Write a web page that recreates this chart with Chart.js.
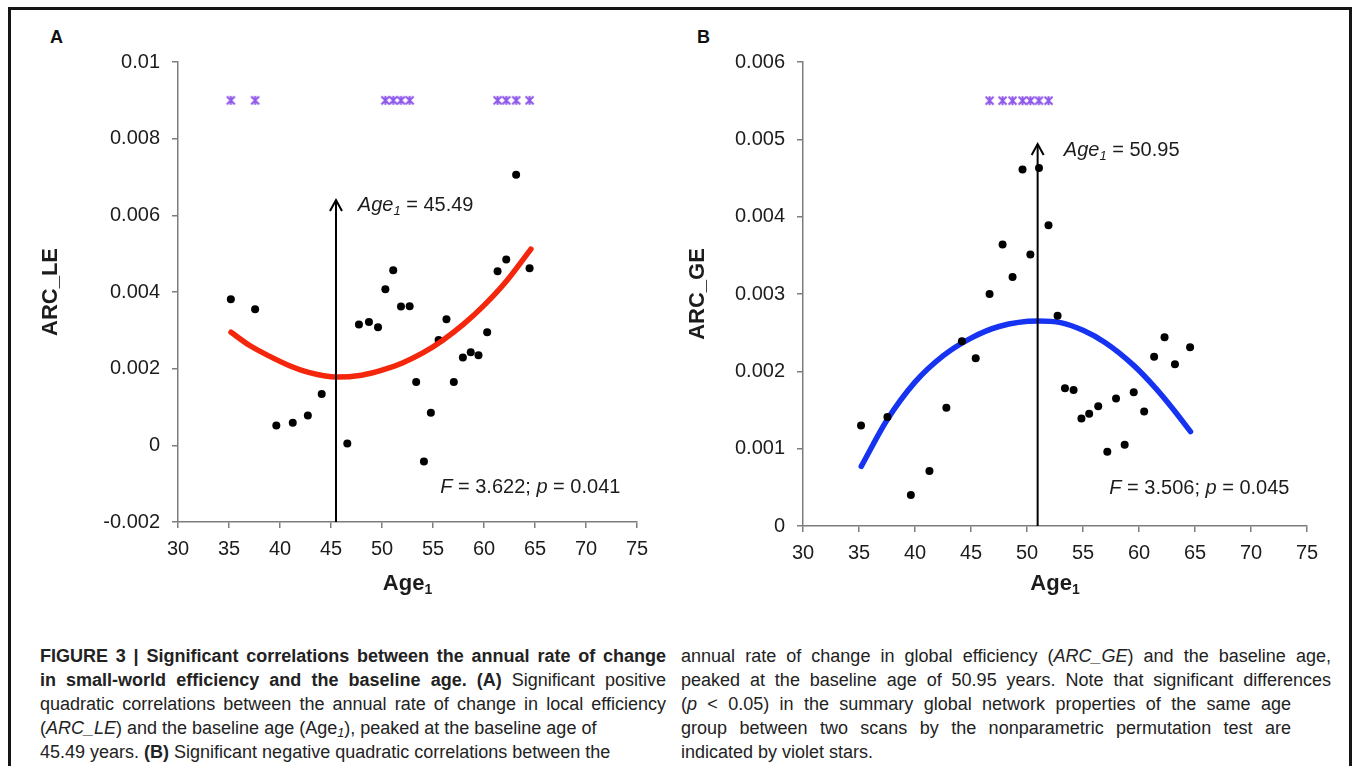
<!DOCTYPE html>
<html>
<head>
<meta charset="utf-8">
<title>Figure 3</title>
<script src="https://cdn.jsdelivr.net/npm/chart.js@4.4.1/dist/chart.umd.min.js"></script>
<style>
    html, body { margin: 0; padding: 0; background: #fff; }
    body { width: 1357px; height: 766px; position: relative; overflow: hidden; font-family: "Liberation Sans", Arial, sans-serif; }
    #frame { position: absolute; left: 8px; top: 7px; width: 1338px; height: 820px; border: 3px solid #151515; border-bottom: none; z-index: 3; pointer-events: none; }
    canvas { position: absolute; top: 0; }
    #chart-a { left: 0; }
    #chart-b { left: 680px; }
    .panel { position: absolute; top: 28px; font: bold 18px/18px "Liberation Sans", Arial, sans-serif; color: #111; }
    .caption { position: absolute; top: 644px; font-family: "Liberation Sans", Arial, sans-serif; font-size: 18px; line-height: 24px; color: #222; }
    .caption div { white-space: nowrap; }
    .caption .j { text-align: justify; text-align-last: justify; }
    .caption .n { text-align: left; }
    .caption .short { width: 610px; }
    .caption sub { font-size: 0.7em; line-height: 0; vertical-align: -0.25em; }
</style>
</head>
<body>
<div id="frame"></div>
<div class="panel" style="left:50px">A</div>
<div class="panel" style="left:697px">B</div>
<canvas id="chart-a" width="680" height="610"></canvas>
<canvas id="chart-b" width="677" height="610"></canvas>

<div class="caption" style="left:40px; width:626px">
    <div class="j"><b>FIGURE 3 | Significant correlations between the annual rate of change</b></div>
    <div class="j"><b>in small-world efficiency and the baseline age. (A)</b> Significant positive</div>
    <div class="j">quadratic correlations between the annual rate of change in local efficiency</div>
    <div class="n">(<i>ARC_LE</i>) and the baseline age (Age<sub><i>1</i></sub>), peaked at the baseline age of</div>
    <div class="n">45.49 years. <b>(B)</b> Significant negative quadratic correlations between the</div>
</div>
<div class="caption" style="left:681px; width:650px">
    <div class="j">annual rate of change in global efficiency (<i>ARC_GE</i>) and the baseline age,</div>
    <div class="j">peaked at the baseline age of 50.95 years. Note that significant differences</div>
    <div class="j short">(<i>p</i> &lt; 0.05) in the summary global network properties of the same age</div>
    <div class="j short">group between two scans by the nonparametric permutation test are</div>
    <div class="n">indicated by violet stars.</div>
</div>

<script>
(function () {
    "use strict";

    // ======================================================================
    // Data
    //
    // Panel A - annual rate of change in local efficiency
    const ageLE = [35.18, 37.56, 39.64, 41.25, 42.73, 44.09, 46.60, 47.74, 48.72, 49.61,
                   50.33, 51.10, 51.86, 52.71, 53.35, 54.11, 54.79, 55.55, 56.32, 57.04,
                   57.93, 58.70, 59.46, 60.31, 61.33, 62.18, 63.15, 64.47];
    const arcLE = [0.00381, 0.00355, 0.00052, 0.00059, 0.00078, 0.00134, 0.00005, 0.00315, 0.00322, 0.00308,
                   0.00407, 0.00457, 0.00362, 0.00363, 0.00165, -0.00042, 0.00085, 0.00275, 0.00329, 0.00165,
                   0.00229, 0.00243, 0.00235, 0.00295, 0.00454, 0.00485, 0.00706, 0.00462];
    const fitAgeLE = [35.2, 37, 39, 41, 43, 45.5, 48, 50, 52, 54, 56, 58, 60, 62, 64.6];
    const fitLE = [0.00295, 0.00261, 0.00232, 0.00207, 0.00189, 0.00178, 0.00183, 0.00196,
                   0.00215, 0.00241, 0.00275, 0.00316, 0.00365, 0.00422, 0.00512];
    const starAgeLE = [35.18, 37.56, 50.33, 51.10, 51.86, 52.71, 61.33, 62.18, 63.15, 64.47];
    const starLevelLE = 0.009;
    const peakLE = [45.49, -0.002, 0.0064];   // age, arrow foot, arrow tip

    // Panel B - annual rate of change in global efficiency
    const ageGE = [35.18, 37.54, 39.63, 41.29, 42.80, 44.19, 45.42, 46.66, 47.82, 48.71,
                   49.60, 50.30, 51.07, 51.92, 52.73, 53.39, 54.16, 54.86, 55.55, 56.36,
                   57.17, 57.95, 58.72, 59.53, 60.46, 61.35, 62.28, 63.21, 64.56];
    const arcGE = [0.00130, 0.00141, 0.00040, 0.00071, 0.00153, 0.00239, 0.00217, 0.00300, 0.00364, 0.00322,
                   0.00461, 0.00351, 0.00463, 0.00389, 0.00272, 0.00178, 0.00176, 0.00139, 0.00145, 0.00155,
                   0.00096, 0.00165, 0.00105, 0.00173, 0.00148, 0.00219, 0.00244, 0.00209, 0.00231];
    const fitAgeGE = [35.2, 37.5, 40, 42.5, 45, 47.5, 50.95, 53, 55, 57, 59.5, 61.5, 63, 64.6];
    const fitGE = [0.00077, 0.00137, 0.00186, 0.00220, 0.00243, 0.00258, 0.00265,
                   0.00263, 0.00253, 0.00237, 0.00208, 0.00178, 0.00152, 0.00122];
    const starAgeGE = [46.66, 47.82, 48.71, 49.60, 50.30, 51.07, 51.92];
    const starLevelGE = 0.0055;
    const peakGE = [50.95, 0, 0.00494];

    const xTicks = [30, 75, 5];   // min, max, step

    // ======================================================================
    // Styles
    //
    const INK = '#1c1c1c',
        AXIS = '#7d7d7d',
        VIOLET = '#8f58ea',
        FAMILY = '"Liberation Sans", Arial, sans-serif';

    const starMark = (function () {
        const c = document.createElement('canvas');
        c.width = 11;
        c.height = 11;
        const g = c.getContext('2d');
        g.strokeStyle = VIOLET;
        g.lineWidth = 2;
        g.beginPath();
        g.moveTo(1.5, 1.5); g.lineTo(9.5, 9.5);
        g.moveTo(9.5, 1.5); g.lineTo(1.5, 9.5);
        g.moveTo(5.5, 1); g.lineTo(5.5, 10);
        g.stroke();
        return c;
    })();

    const pairs = (xs, ys) => xs.map((x, i) => ({ x: x, y: Array.isArray(ys) ? ys[i] : ys }));

    // ======================================================================
    // Annotation plugin: arrow head, in-plot texts, x-axis title with subscript
    //
    function drawRuns(ctx, x, y, runs) {
        let cx = x;
        runs.forEach(([text, font, dy]) => {
            ctx.font = font;
            ctx.fillText(text, cx, y + (dy || 0));
            cx += ctx.measureText(text).width;
        });
        return cx - x;
    }

    function runsWidth(ctx, runs) {
        return runs.reduce((w, [text, font]) => { ctx.font = font; return w + ctx.measureText(text).width; }, 0);
    }

    const notesPlugin = {
        id: 'notes',
        afterDatasetsDraw(chart, args, opts) {
            const { ctx, chartArea, scales: { x, y } } = chart;
            ctx.save();
            ctx.fillStyle = INK;
            ctx.strokeStyle = '#000';
            ctx.textBaseline = 'alphabetic';
            ctx.textAlign = 'left';

            // arrow head
            const tx = x.getPixelForValue(opts.peak[0]),
                ty = y.getPixelForValue(opts.peak[2]);
            ctx.lineWidth = 2;
            ctx.beginPath();
            ctx.moveTo(tx - 6, ty + 11);
            ctx.lineTo(tx, ty);
            ctx.lineTo(tx + 6, ty + 11);
            ctx.stroke();

            // texts at data positions
            opts.labels.forEach(l => drawRuns(ctx, x.getPixelForValue(l.x), y.getPixelForValue(l.y), l.runs));

            // x-axis title
            const title = [['Age', 'bold 22px ' + FAMILY], ['1', 'bold 14px ' + FAMILY, 4]],
                w = runsWidth(ctx, title);
            drawRuns(ctx, (chartArea.left + chartArea.right) / 2 - w / 2, opts.titleBaseline, title);
            ctx.restore();
        }
    };

    // ======================================================================
    // Chart builder
    //
    function axisLook() {
        return {
            grid: { display: true, drawOnChartArea: false, drawTicks: true, tickLength: 6, color: AXIS, lineWidth: 1.5 },
            border: { display: true, color: AXIS, width: 1.5 }
        };
    }

    function makeChart(id, o) {
        const TICK_FONT = { family: FAMILY, size: 20 };
        const peakAge = o.peak[0];
        const notesOpts = {
            peak: o.peak,
            titleBaseline: 590,
            labels: [
                { x: o.peakLabel[0], y: o.peakLabel[1], runs: [
                    ['Age', 'italic 20px ' + FAMILY], ['1', 'italic 13px ' + FAMILY, 4], [' = ' + peakAge.toFixed(2), '20px ' + FAMILY]
                ] },
                { x: o.stat[0], y: o.stat[1], runs: [
                    ['F', 'italic 20px ' + FAMILY], [' = ' + o.stat[2] + '; ', '20px ' + FAMILY],
                    ['p', 'italic 20px ' + FAMILY], [' = ' + o.stat[3], '20px ' + FAMILY]
                ] }
            ]
        };

        const datasets = [
            {
                type: 'line', label: 'peak', data: pairs([peakAge, peakAge], [o.peak[1], o.peak[2]]),
                borderColor: '#000', borderWidth: 2, pointRadius: 0, order: 0
            },
            {
                type: 'line', label: 'fit', data: pairs(o.fitX, o.fitY),
                borderColor: o.fitColor, borderWidth: 5.5, pointRadius: 0,
                cubicInterpolationMode: 'monotone', borderCapStyle: 'round', order: o.fitOnTop ? 1 : 2
            },
            {
                type: 'scatter', label: 'subjects', data: pairs(o.ageX, o.arcY),
                backgroundColor: '#000', borderWidth: 0, pointRadius: 4, order: o.fitOnTop ? 2 : 1
            },
            {
                type: 'scatter', label: 'p < 0.05', data: pairs(o.starX, o.starY),
                pointStyle: starMark, pointRadius: 5, order: 3
            }
        ];

        return new Chart(document.getElementById(id), {
            type: 'scatter',
            data: { datasets: datasets },
            options: {
                responsive: false,
                animation: false,
                devicePixelRatio: 1,
                layout: { padding: o.padding },
                plugins: { legend: { display: false }, tooltip: { enabled: false }, notes: notesOpts },
                scales: {
                    x: Object.assign({
                        type: 'linear', min: xTicks[0], max: xTicks[1],
                        ticks: { stepSize: xTicks[2], font: TICK_FONT, color: INK, padding: 9 },
                        afterFit: s => { s.height = 40; }
                    }, axisLook()),
                    y: Object.assign({
                        type: 'linear', min: o.yTicks[0], max: o.yTicks[1],
                        ticks: { stepSize: o.yTicks[2], font: TICK_FONT, color: INK, padding: 12,
                                 callback: v => String(+v.toFixed(3)) },
                        title: { display: true, text: o.yTitle, color: INK,
                                 font: { family: FAMILY, size: 22, weight: 'bold' },
                                 padding: { top: o.titlePad, bottom: 0 } },
                        afterFit: s => { s.width = o.yWidth; }
                    }, axisLook())
                }
            },
            plugins: [notesPlugin]
        });
    }

    // ======================================================================
    // Charts
    //
    makeChart('chart-a', {
        ageX: ageLE, arcY: arcLE, fitX: fitAgeLE, fitY: fitLE,
        starX: starAgeLE, starY: starLevelLE, peak: peakLE,
        fitColor: '#f4260c', fitOnTop: true,
        yTicks: [-0.002, 0.01, 0.002], yTitle: 'ARC_LE', titlePad: 8, yWidth: 148,
        padding: { left: 30, right: 43, top: 62, bottom: 48 },
        peakLabel: [47.63, 0.00611], stat: [55.71, -0.00125, '3.622', '0.041']
    });

    makeChart('chart-b', {
        ageX: ageGE, arcY: arcGE, fitX: fitAgeGE, fitY: fitGE,
        starX: starAgeGE, starY: starLevelGE, peak: peakGE,
        fitColor: '#1633f2', fitOnTop: false,
        yTicks: [0, 0.006, 0.001], yTitle: 'ARC_GE', titlePad: 5, yWidth: 123,
        padding: { left: 0, right: 50, top: 62, bottom: 44 },
        peakLabel: [53.29, 0.00478], stat: [57.35, 0.00042, '3.506', '0.045']
    });
})();
</script>
</body>
</html>
